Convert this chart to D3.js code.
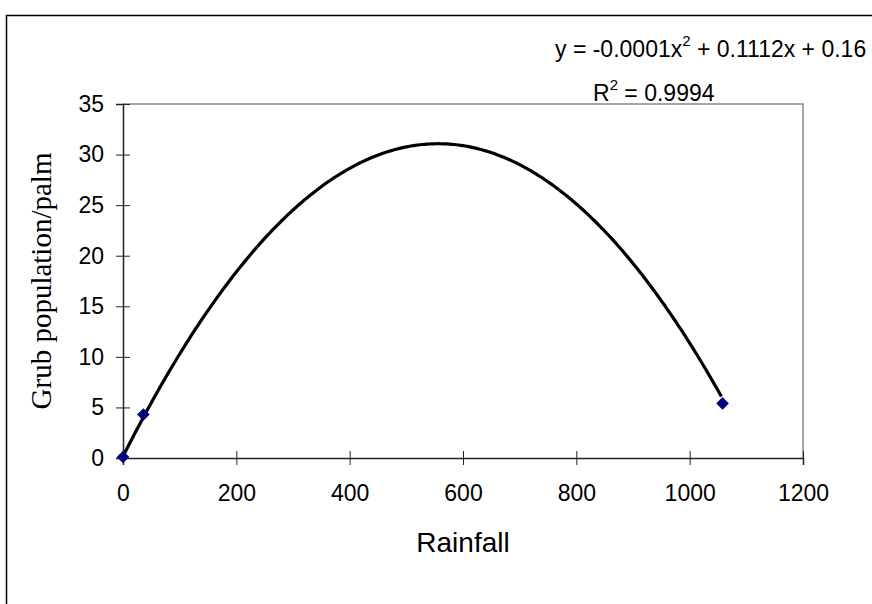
<!DOCTYPE html>
<html>
<head>
<meta charset="utf-8">
<script src="https://cdn.jsdelivr.net/npm/d3@7/dist/d3.min.js"></script>
<style>
  html, body { margin: 0; padding: 0; background: #fff; }
  svg { display: block; }
</style>
</head>
<body>
<script>
// ---- data ----
const rainfall = [0, 36, 1058];
const grub = [0.1, 4.3, 5.4];
const xTicks = [0, 200, 400, 600, 800, 1000, 1200];
const yTicks = [0, 5, 10, 15, 20, 25, 30, 35];
// trendline coefficients as printed on the chart
const trendCoef = { a: -0.0001, b: 0.1112, c: 0.16 };
const rSquared = "0.9994";
const xTitle = "Rainfall";
const yTitle = "Grub population/palm";

const W = 872, H = 604;
const svg = d3.select("body").append("svg").attr("width", W).attr("height", H);

// outer chart frame
svg.append("rect").attr("x", 6.5).attr("y", 15.5).attr("width", 880).attr("height", 620)
  .attr("fill", "none").attr("stroke", "#000").attr("stroke-width", 1.5);

const x = d3.scaleLinear().domain([0, 1200]).range([123, 803]);
const y = d3.scaleLinear().domain([0, 35]).range([458, 104]);

// plot area border (top/right gray)
svg.append("path")
  .attr("d", `M${x(0)},${y(35)}H${x(1200)}V${y(0)}`)
  .attr("fill", "none").attr("stroke", "#888").attr("stroke-width", 1.5);

const font = "'Liberation Sans', Arial, sans-serif";

// x axis
const xAxis = svg.append("g").attr("transform", `translate(0,${y(0)})`)
  .call(d3.axisBottom(x).tickValues(xTicks).tickSize(7).tickPadding(20).tickFormat(d3.format("d")));
xAxis.select(".domain").attr("stroke", "#222").attr("stroke-width", 1.5);
xAxis.selectAll(".tick line").attr("y1", -7).attr("y2", 7).attr("stroke", "#222");
xAxis.selectAll(".tick text").attr("font-family", font).attr("font-size", 23).attr("fill", "#000");

// y axis
const yAxis = svg.append("g").attr("transform", `translate(${x(0)},0)`)
  .call(d3.axisLeft(y).tickValues(yTicks).tickSize(7).tickPadding(12).tickFormat(d3.format("d")));
yAxis.select(".domain").attr("stroke", "#222").attr("stroke-width", 1.5);
yAxis.selectAll(".tick line").attr("x1", -7).attr("x2", 7).attr("stroke", "#222");
yAxis.selectAll(".tick text").attr("font-family", font).attr("font-size", 23).attr("fill", "#000");

// trendline from printed equation, over data range
const xs = d3.range(d3.min(rainfall), d3.max(rainfall) + 1, 4);
const trend = xs.map(v => [v, trendCoef.a * v * v + trendCoef.b * v + trendCoef.c]);
svg.append("path").datum(trend)
  .attr("d", d3.line().x(d => x(d[0])).y(d => y(d[1])))
  .attr("fill", "none").attr("stroke", "#000").attr("stroke-width", 3.2);

// markers (square rotated 45 degrees)
svg.append("g").selectAll("path").data(rainfall.map((r, i) => [r, grub[i]])).join("path")
  .attr("transform", d => `translate(${x(d[0])},${y(d[1])}) rotate(45)`)
  .attr("d", d3.symbol(d3.symbolSquare, 80))
  .attr("fill", "#000080");

// equation labels
const eq = svg.append("text").attr("x", 555).attr("y", 57)
  .attr("font-family", font).attr("font-size", 23).attr("fill", "#000");
eq.append("tspan").text(`y = ${trendCoef.a.toFixed(4)}x`);
eq.append("tspan").attr("dy", -11).attr("font-size", 15).text("2");
eq.append("tspan").attr("dy", 11).text(` + ${trendCoef.b}x + ${trendCoef.c}`);

const r2 = svg.append("text").attr("x", 593).attr("y", 101)
  .attr("font-family", font).attr("font-size", 23).attr("fill", "#000");
r2.append("tspan").text("R");
r2.append("tspan").attr("dy", -11).attr("font-size", 15).text("2");
r2.append("tspan").attr("dy", 11).text(` = ${rSquared}`);

// axis titles
svg.append("text").attr("x", (x(0) + x(1200)) / 2).attr("y", 552)
  .attr("text-anchor", "middle").attr("font-family", font).attr("font-size", 28)
  .text(xTitle);
svg.append("text").attr("transform", `translate(51,${(y(0) + y(35)) / 2}) rotate(-90)`)
  .attr("text-anchor", "middle").attr("font-family", "'Liberation Serif', 'Times New Roman', serif")
  .attr("font-size", 29).text(yTitle);
</script>
</body>
</html>
